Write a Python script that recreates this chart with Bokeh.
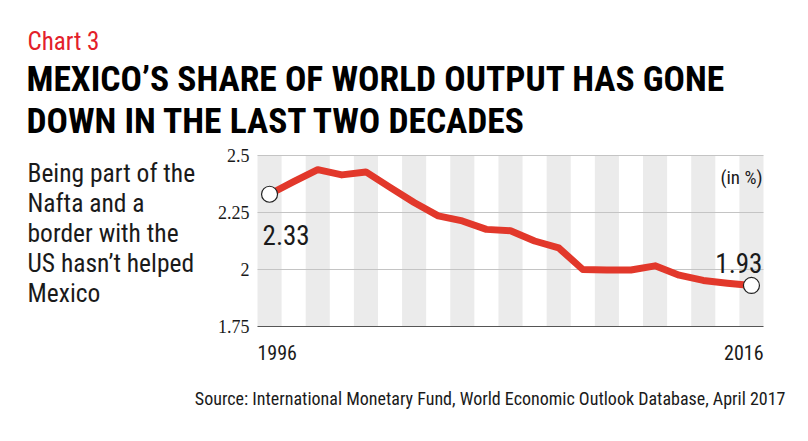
from bokeh.plotting import figure
from bokeh.models import Range1d, Label
from bokeh.embed import file_html
from bokeh.resources import INLINE

# ---- data ----
years = list(range(1996, 2017))
share = [2.33, 2.385, 2.438, 2.415, 2.428, 2.36, 2.294, 2.235, 2.213, 2.176, 2.17,
         2.125, 2.095, 2.0, 1.998, 1.998, 2.016, 1.975, 1.952, 1.94, 1.93]
y_ticks = [1.75, 2.0, 2.25, 2.5]
y_tick_labels = ["1.75", "2", "2.25", "2.5"]
chart_no = "Chart 3"
title_lines = ["MEXICO\u2019S SHARE OF WORLD OUTPUT HAS GONE",
               "DOWN IN THE LAST TWO DECADES"]
side_lines = ["Being part of the", "Nafta and a", "border with the",
              "US hasn\u2019t helped", "Mexico"]
unit_note = "(in %)"
source = "Source: International Monetary Fund, World Economic Outlook Database, April 2017"

FONT = "Roboto Condensed"
RED = "#e2382b"
INK = "#1a1a1a"

# ---- layout (picture pixels) ----
W, H = 792, 425
PX_LEFT, PX_RIGHT = 257, 763      # chart area in the picture
PX_TOP, PX_BOTTOM = 155, 326
x0, x1 = years[0] - 0.5, years[-1] + 0.5
y0, y1 = y_ticks[0], y_ticks[-1]
kx = (PX_RIGHT - PX_LEFT) / (x1 - x0)
ky = (PX_BOTTOM - PX_TOP) / (y1 - y0)
xr = Range1d(x0 - PX_LEFT / kx, x1 + (W - PX_RIGHT) / kx)
yr = Range1d(y0 - (H - PX_BOTTOM) / ky, y1 + PX_TOP / ky)

p = figure(width=W, height=H, output_backend="svg", toolbar_location=None,
           x_range=xr, y_range=yr, min_border=0)
p.outline_line_color = None
p.background_fill_color = "white"
p.border_fill_color = "white"
p.grid.visible = False
p.axis.visible = False


def lab(px, py, text, size, color=INK, align="left", font=FONT, style="normal"):
    p.add_layout(Label(x=px, y=H - py, x_units="screen", y_units="screen",
                       text=text, text_font=font, text_font_size=f"{size}px",
                       text_font_style=style, text_color=color, text_align=align,
                       text_baseline="alphabetic"))


# alternating year stripes
stripe_years = years[::2]
p.vbar(x=stripe_years, width=1, bottom=y0, top=y1, fill_color="#ebebeb", line_color=None)

# horizontal grid lines
grid_y = y_ticks[1:]
p.segment(x0=[x0] * len(grid_y), x1=[x1] * len(grid_y), y0=grid_y, y1=grid_y,
          line_color="#c4c4c4", line_width=1)
p.segment(x0=[x0], x1=[x1], y0=[y0], y1=[y0], line_color="#555555", line_width=1.2)

# y tick labels
p.text(x=[x0] * len(y_ticks), y=y_ticks, text=y_tick_labels, x_offset=-8,
       text_font=FONT, text_font_size="18px", text_color=INK,
       text_align="right", text_baseline="middle")

# data line
p.line(years, share, line_color=RED, line_width=7, line_join="round", line_cap="round")
p.scatter([years[0], years[-1]], [share[0], share[-1]], size=16,
          fill_color="white", line_color="#222222", line_width=1.2)

# end value labels
p.add_layout(Label(x=years[0], y=share[0], text=f"{share[0]:.2f}", x_offset=-7, y_offset=-41,
                   text_font=FONT, text_font_size="27px", text_color=INK,
                   text_baseline="alphabetic", text_align="left"))
p.add_layout(Label(x=years[-1], y=share[-1], text=f"{share[-1]:.2f}", x_offset=11, y_offset=22,
                   text_font=FONT, text_font_size="27px", text_color=INK,
                   text_baseline="alphabetic", text_align="right"))

# year labels
lab(PX_LEFT, 352, str(years[0]), 20)
lab(PX_RIGHT, 352, str(years[-1]), 20, align="right")

# unit note
lab(762, 177, unit_note, 19, align="right")

# header
lab(27, 41, chart_no, 25, color="#e3202a")
for i, line in enumerate(title_lines):
    lab(26, 78 + 42 * i, line, 35.5, color="#000000", style="bold")

for i, line in enumerate(side_lines):
    lab(27, 172 + 30 * i, line, 25.5)

lab(785, 398, source, 18, align="right")

open("out.html", "w").write(file_html(p, INLINE))
